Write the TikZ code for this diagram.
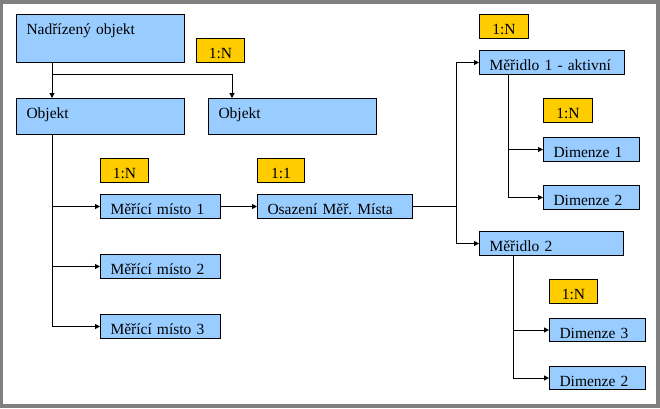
\documentclass[tikz,border=0pt]{standalone}
\usepackage{fontspec}
\setmainfont{Liberation Serif}
\usepackage{tikz}
\usetikzlibrary{arrows.meta,positioning,calc}
\definecolor{boxblue}{RGB}{153,204,255}
\definecolor{cardgold}{RGB}{255,204,0}
\definecolor{framegray}{RGB}{128,128,128}
\edef\sizegap{10pt}
\tikzstyle{entity}=[draw,line width=1pt,fill=boxblue,anchor=north west,inner xsep=\sizegap,inner ysep=0pt,text height=20pt,align=left]
\tikzstyle{card}=[draw,line width=1pt,fill=cardgold,anchor=north west,inner sep=0pt,minimum width=48pt,text height=19.5pt,text depth=4.5pt,align=center]
\tikzstyle{link}=[line width=1pt,-{Triangle[length=5pt,width=5pt]}]
\tikzstyle{trunk}=[line width=1pt]

\begin{document}
\begin{tikzpicture}[x=1pt,y=-1pt,font=\rmfamily\fontsize{15.5}{18}\selectfont\frenchspacing]
		\useasboundingbox (0,0) rectangle (660,408);
		\fill[framegray] (0,0) rectangle (660,408);
		\fill[white] (3,4) rectangle (656,404);

		% top level
		\node[entity,text width=148pt,text depth=28pt] (nadr) at (16,14) {Nadřízený objekt};
		\node[card] (relA) at (196,38) {1:N};
		\node[entity,text width=148pt,text depth=16pt] (obj1) at (16,98) {Objekt};
		\node[entity,text width=148pt,text depth=16pt] (obj2) at (208,98) {Objekt};

		% measuring points
		\node[card] (relB) at (100,158) {1:N};
		\node[card,minimum width=47pt] (relC) at (257,158) {1:1};
		\node[entity,text width=100pt,text depth=4pt] (mm1) at (100,194) {Měřící místo 1};
		\node[entity,text width=100pt,text depth=4pt] (mm2) at (100,254) {Měřící místo 2};
		\node[entity,text width=100pt,text depth=4pt] (mm3) at (100,314) {Měřící místo 3};
		\node[entity,text width=135pt,text depth=4pt] (osaz) at (257,194) {Osazení Měř. Místa};

		% meters and dimensions
		\node[card,minimum width=49pt] (relD) at (479,14) {1:N};
		\node[entity,text width=125pt,text depth=4pt] (mer1) at (479,50) {Měřidlo 1 - aktivní};
		\node[card,minimum width=49pt] (relE) at (543,98) {1:N};
		\node[entity,text width=76pt,text depth=4pt] (dim1) at (543,137) {Dimenze 1};
		\node[entity,text width=76pt,text depth=4pt] (dim2) at (543,185) {Dimenze 2};
		\node[entity,text width=124pt,text depth=4pt] (mer2) at (479,231) {Měřidlo 2};
		\node[card] (relF) at (549,279) {1:N};
		\node[entity,text width=76pt,text depth=3pt] (dim3) at (549,318) {Dimenze 3};
		\node[entity,text width=76pt,text depth=3pt] (dim4) at (549,366) {Dimenze 2};

		% branch points
		\coordinate (t0) at (52,74);
		\coordinate (t1) at (232,74);
		\coordinate (t2) at (456,206);
		\coordinate (t3) at (508,74);
		\coordinate (t4) at (513,255);

		\draw[trunk] (t0 |- nadr.south) -- (t0) -- (t1);
		\draw[link] (t0) -- (t0 |- obj1.north);
		\draw[link] (t1) -- (t1 |- obj2.north);

		\draw[link] (t0 |- obj1.south) |- (mm3.west);
		\draw[link] (t0 |- mm1.west) -- (mm1.west);
		\draw[link] (t0 |- mm2.west) -- (mm2.west);
		\draw[link] (mm1) -- (osaz);

		\draw[trunk] (osaz.east) -- (osaz.east -| t2);
		\draw[link] (osaz.east -| t2) |- (mer1.west);
		\draw[link] (osaz.east -| t2) |- (mer2.west);

		\draw[link] (t3 |- mer1.south) |- (dim2.west);
		\draw[link] (t3 |- dim1.west) -- (dim1.west);
		\draw[link] (t4 |- mer2.south) |- (dim4.west);
		\draw[link] (t4 |- dim3.west) -- (dim3.west);
\end{tikzpicture}
\end{document}
